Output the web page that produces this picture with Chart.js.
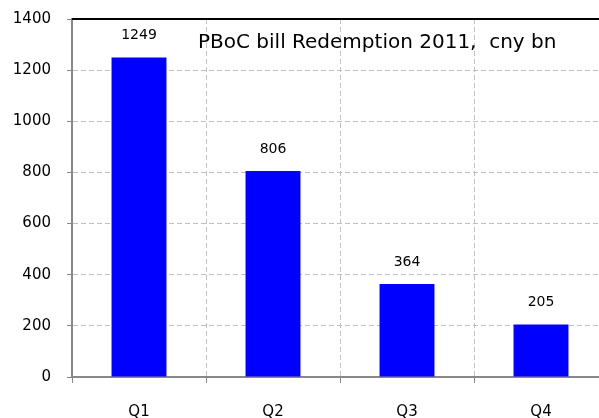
<!DOCTYPE html>
<html>
<head>
<meta charset="utf-8">
<script src="https://cdn.jsdelivr.net/npm/chart.js@4"></script>
<style>
  html, body { margin: 0; padding: 0; background: #fff; overflow: hidden; }
  #wrap { width: 612px; height: 424px; position: relative; top: -6px; }
</style>
</head>
<body>
<div id="wrap"><canvas id="pbocChart"></canvas></div>
<script>
// ===== DATA =====
const quarters = ['Q1', 'Q2', 'Q3', 'Q4'];
const redemption = [1249, 806, 364, 205];
const yTicks = [0, 200, 400, 600, 800, 1000, 1200, 1400];
const chartTitle = 'PBoC bill Redemption 2011,  cny bn';

const FONT = 'DejaVu Sans';

// value labels above bars + title inside plot + top border
const overlayPlugin = {
  id: 'overlay',
  afterDatasetsDraw(chart) {
    const { ctx, chartArea } = chart;
    const meta = chart.getDatasetMeta(0);
    ctx.save();
    ctx.fillStyle = '#000';
    ctx.font = '14px "' + FONT + '"';
    ctx.textAlign = 'center';
    ctx.textBaseline = 'middle';
    meta.data.forEach((bar, i) => {
      ctx.fillText(String(redemption[i]), bar.x, bar.y - 22);
    });
    // black top border
    ctx.strokeStyle = '#000';
    ctx.lineWidth = 2;
    ctx.beginPath();
    ctx.moveTo(chartArea.left, chartArea.top);
    ctx.lineTo(chartArea.right + 5, chartArea.top);
    ctx.stroke();
    // title
    ctx.font = '20px "' + FONT + '"';
    ctx.textAlign = 'left';
    ctx.fillText(chartTitle, 198, chartArea.top + 24);
    ctx.restore();
  }
};

new Chart(document.getElementById('pbocChart'), {
  type: 'bar',
  data: {
    labels: quarters,
    datasets: [{
      data: redemption,
      backgroundColor: '#0000ff',
      borderWidth: 0,
      categoryPercentage: 1,
      barPercentage: 0.41,
    }]
  },
  options: {
    responsive: true,
    maintainAspectRatio: false,
    animation: false,
    layout: { padding: { top: 13, right: 4, left: 0, bottom: 0 } },
    plugins: { legend: { display: false }, tooltip: { enabled: false } },
    scales: {
      x: {
        grid: { color: '#c0c0c0', tickColor: '#888', tickLength: 6, tickBorderDash: [], offset: true },
        border: { color: '#888', width: 2, dash: [5, 3] },
        ticks: { color: '#000', padding: 20, font: { family: FONT, size: 15 } },
        afterFit(scale) { scale.height = 41; }
      },
      y: {
        min: 0,
        max: 1400,
        afterBuildTicks(scale) { scale.ticks = yTicks.map(v => ({ value: v })); },
        grid: { color: '#c0c0c0', tickColor: '#888', tickLength: 5, tickBorderDash: [] },
        border: { color: '#888', width: 2, dash: [5, 3] },
        ticks: { color: '#000', padding: 16, font: { family: FONT, size: 15 }, callback: v => String(v) },
        afterFit(scale) { scale.width = 72; }
      }
    }
  },
  plugins: [overlayPlugin]
});
</script>
</body>
</html>
